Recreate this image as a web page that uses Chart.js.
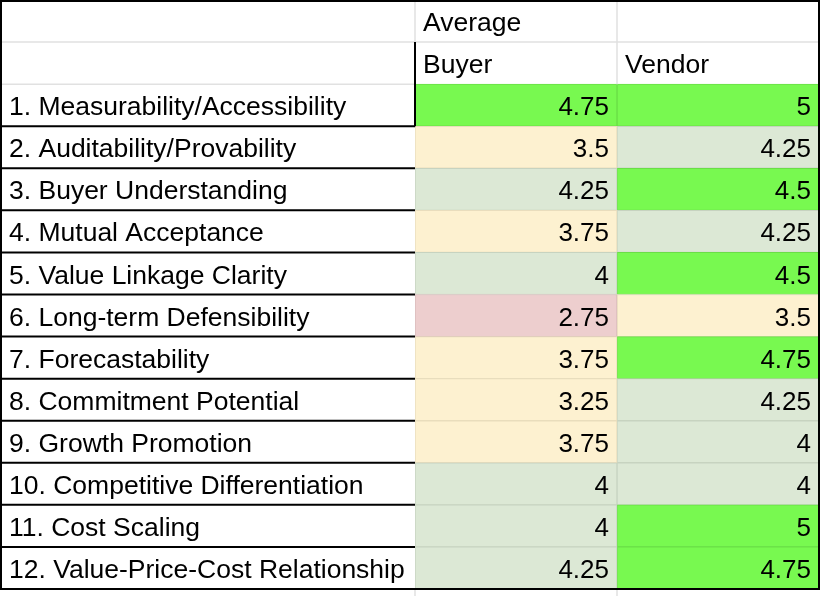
<!DOCTYPE html>
<html>
<head>
<meta charset="utf-8">
<script src="https://cdn.jsdelivr.net/npm/chart.js@4"></script>
<style>
  html, body { margin: 0; padding: 0; background: #fff; }
  #wrap { width: 822px; height: 596px; }
</style>
</head>
<body>
<div id="wrap"><canvas id="sheet" width="822" height="596"></canvas></div>
<script>
const criteria = [
    '1. Measurability/Accessibility',
    '2. Auditability/Provability',
    '3. Buyer Understanding',
    '4. Mutual Acceptance',
    '5. Value Linkage Clarity',
    '6. Long-term Defensibility',
    '7. Forecastability',
    '8. Commitment Potential',
    '9. Growth Promotion',
    '10. Competitive Differentiation',
    '11. Cost Scaling',
    '12. Value-Price-Cost Relationship'
];
const buyer = [4.75, 3.5, 4.25, 3.75, 4, 2.75, 3.75, 3.25, 3.75, 4, 4, 4.25];
const vendor = [5, 4.25, 4.5, 4.25, 4.5, 3.5, 4.75, 4.25, 4, 4, 5, 4.75];
const groupTitle = 'Average';
const columns = ['Buyer', 'Vendor'];

// two header rows sit above the criteria
const HEAD = 2;
const rows = ['', ''].concat(criteria);

// conditional fill, like the spreadsheet rules
function fillFor(v) {
    if (v >= 4.5) return '#78f950';
    if (v >= 4) return '#dce8d5';
    if (v >= 3) return '#fdf1d0';
    return '#edcece';
}
function edgeFor(v) {
    if (v >= 4.5) return '#6ade47';
    if (v >= 4) return '#c7d3c0';
    if (v >= 3) return '#e9ddbd';
    return '#d9baba';
}

const colData = (col) => rows.map((r, i) => i < HEAD ? null : [col, col + 1]);
const seriesValues = [buyer, vendor];

const sheetPlugin = {
    id: 'sheetGrid',
    afterDraw(chart) {
        const ctx = chart.ctx;
        const x = chart.scales.x, y = chart.scales.y;
        const band = (y.bottom - y.top) / rows.length;
        const rowTop = (i) => y.getPixelForValue(i) - band / 2;
        const rowBottom = (i) => rowTop(i) + band;
        const left = 1, right = x.getPixelForValue(2);
        const bottom = rowTop(rows.length);

        ctx.save();
        // light header grid
        ctx.strokeStyle = '#e1e1e1';
        ctx.lineWidth = 1.5;
        ctx.beginPath();
        ctx.moveTo(left, rowTop(1)); ctx.lineTo(right, rowTop(1));
        ctx.moveTo(left, rowTop(2)); ctx.lineTo(x.getPixelForValue(0), rowTop(2));
        ctx.moveTo(x.getPixelForValue(0), 0); ctx.lineTo(x.getPixelForValue(0), rowTop(1));
        ctx.moveTo(x.getPixelForValue(1), 0); ctx.lineTo(x.getPixelForValue(1), rowTop(2));
        // empty cells below the table
        ctx.moveTo(x.getPixelForValue(0), bottom); ctx.lineTo(x.getPixelForValue(0), chart.height);
        ctx.moveTo(x.getPixelForValue(1), bottom); ctx.lineTo(x.getPixelForValue(1), chart.height);
        ctx.stroke();

        // black borders
        ctx.strokeStyle = '#000';
        ctx.lineWidth = 2;
        ctx.beginPath();
        ctx.moveTo(x.getPixelForValue(0), rowTop(1)); ctx.lineTo(x.getPixelForValue(0), rowTop(HEAD + 1));
        for (let i = HEAD + 1; i < rows.length; i++) {
            ctx.moveTo(left, rowTop(i)); ctx.lineTo(x.getPixelForValue(0), rowTop(i));
        }
        ctx.moveTo(0, 1); ctx.lineTo(right + 1, 1);
        ctx.moveTo(1, 0); ctx.lineTo(1, bottom + 1);
        ctx.moveTo(right, 0); ctx.lineTo(right, bottom + 1);
        ctx.moveTo(0, bottom); ctx.lineTo(right + 1, bottom);
        ctx.stroke();

        // texts
        ctx.fillStyle = '#000';
        ctx.textBaseline = 'alphabetic';
        ctx.textAlign = 'left';
        ctx.font = '26.5px "Liberation Sans", Arial, sans-serif';
        ctx.fillText(groupTitle, x.getPixelForValue(0) + 8, rowBottom(0) - 11);
        columns.forEach((c, k) => ctx.fillText(c, x.getPixelForValue(k) + 8, rowBottom(1) - 11));
        criteria.forEach((c, i) => ctx.fillText(c, left + 8, rowBottom(i + HEAD) - 11));
        ctx.textAlign = 'right';
        ctx.font = '26px "Liberation Sans", Arial, sans-serif';
        seriesValues.forEach((vals, k) => {
            vals.forEach((v, i) => ctx.fillText(String(v), x.getPixelForValue(k + 1) - 8, rowBottom(i + HEAD) - 11));
        });
        ctx.restore();
    }
};

new Chart(document.getElementById('sheet'), {
    type: 'bar',
    data: {
        labels: rows,
        datasets: columns.map((name, k) => ({
            label: name,
            data: colData(k),
            backgroundColor: (c) => c.dataIndex < HEAD ? 'transparent' : fillFor(seriesValues[k][c.dataIndex - HEAD]),
            borderColor: (c) => c.dataIndex < HEAD ? 'transparent' : edgeFor(seriesValues[k][c.dataIndex - HEAD]),
            borderWidth: 1,
            borderSkipped: false,
            barPercentage: 1,
            categoryPercentage: 1,
            grouped: false
        }))
    },
    options: {
        responsive: false,
        animation: false,
        indexAxis: 'y',
        layout: { padding: { left: 415, right: 3, top: 0, bottom: 7 } },
        scales: {
            x: { type: 'linear', min: 0, max: 2, display: false },
            y: { type: 'category', offset: true, display: false }
        },
        plugins: {
            legend: { display: false },
            tooltip: { enabled: false }
        }
    },
    plugins: [sheetPlugin]
});
</script>
</body>
</html>
